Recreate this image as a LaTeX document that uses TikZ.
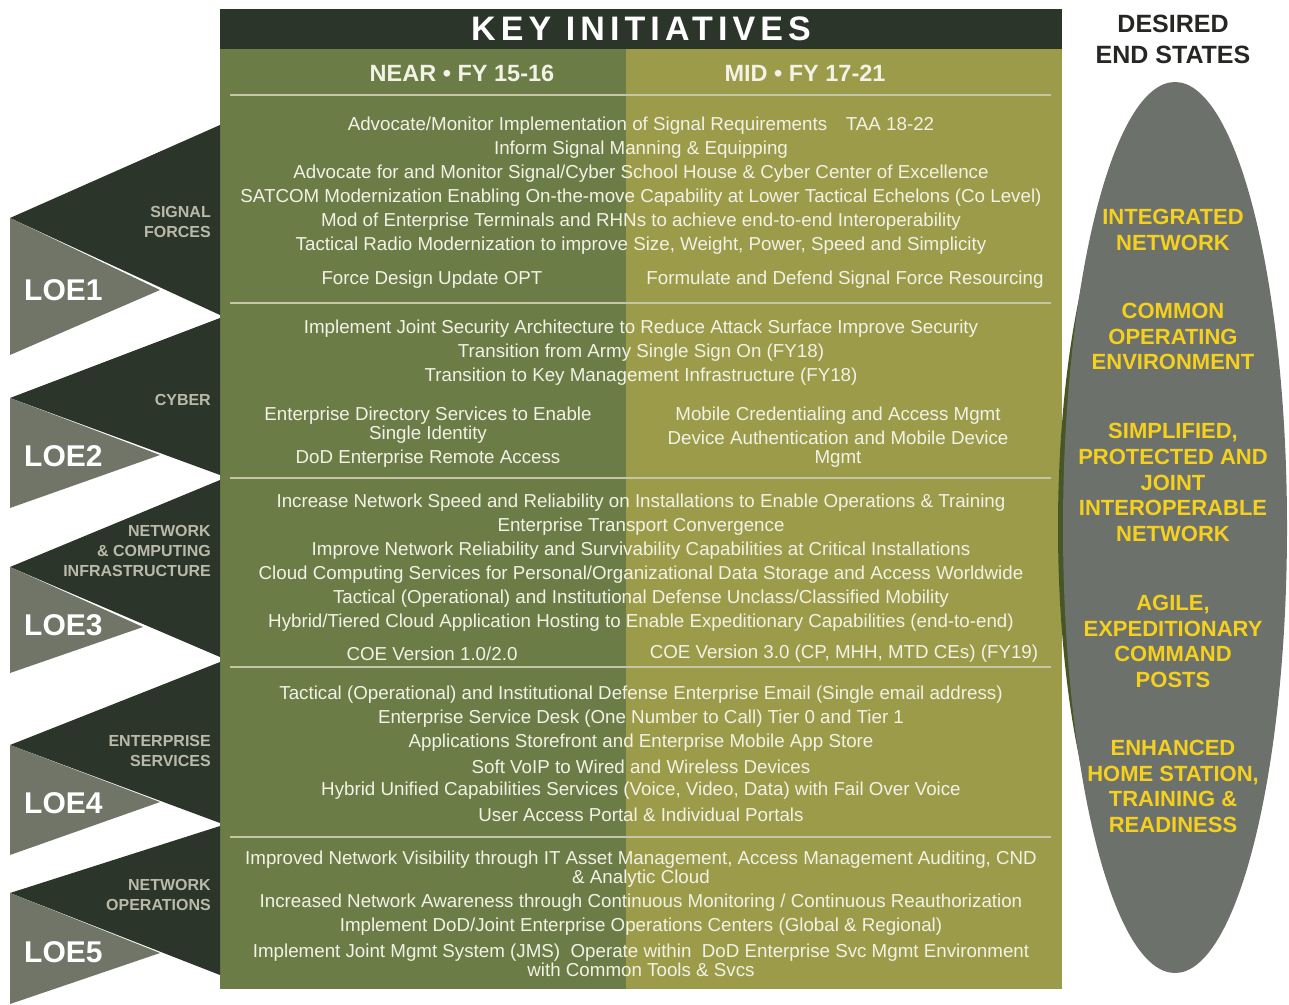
\documentclass[tikz,border=0pt]{standalone}
\usepackage{fontspec}
\setmainfont{Liberation Sans}
\newfontfamily\titrefont[LetterSpace=15]{Liberation Sans}
\usepackage{tikz}
\usetikzlibrary{shapes,arrows,positioning,calc,fit,backgrounds}

\definecolor{barfonce}{RGB}{44,53,42}
\definecolor{olivegauche}{RGB}{107,124,70}
\definecolor{olivedroite}{RGB}{156,155,74}
\definecolor{gristri}{RGB}{112,117,104}
\definecolor{grisellipse}{RGB}{108,113,107}
\definecolor{ombre}{RGB}{72,86,38}
\definecolor{jaune}{RGB}{245,208,30}
\definecolor{texteclair}{RGB}{242,242,230}
\definecolor{texteloe}{RGB}{186,186,170}
\definecolor{filet}{RGB}{196,198,165}
\definecolor{titrefin}{RGB}{38,38,36}

\begin{document}
\begin{tikzpicture}[x=1pt, y=-1pt,
    ligne/.style={text=texteclair, font=\fontsize{18.75}{19}\selectfont, inner sep=0pt, align=center, yshift=-2.5pt},
    axe/.style={text=texteloe, font=\fontsize{16}{20}\selectfont\bfseries, inner sep=0pt, align=right, anchor=east},
    loe/.style={text=white, font=\fontsize{30}{30}\selectfont\bfseries, inner sep=0pt, anchor=west},
    etat/.style={text=jaune, font=\fontsize{22}{25.7}\selectfont\bfseries, inner sep=0pt, align=center}]
    \useasboundingbox (0,0) rectangle (1289,1004);

    % Colonnes et bandeau
    \fill[olivegauche] (220,49) rectangle (626,989);
    \fill[olivedroite] (626,49) rectangle (1062,989);
    \fill[barfonce] (220,9) rectangle (1062,49);
    \foreach \y in {95,303,478,667,837}
        \draw[filet, line width=2.5pt] (230,\y) -- (1051,\y);

    % Chevrons des LOE
    \fill[barfonce] (220,125) -- (10,218) -- (220,315) -- cycle;
    \fill[gristri] (10,218) -- (10,355) -- (160,290) -- cycle;
    \fill[barfonce] (220,318) -- (10,398) -- (220,475) -- cycle;
    \fill[gristri] (10,398) -- (10,508) -- (160,455) -- cycle;
    \fill[barfonce] (220,480) -- (10,567) -- (220,657) -- cycle;
    \fill[gristri] (10,567) -- (10,673) -- (143,627) -- cycle;
    \fill[barfonce] (220,662) -- (10,745) -- (220,823) -- cycle;
    \fill[gristri] (10,745) -- (10,855) -- (160,802) -- cycle;
    \fill[barfonce] (220,826) -- (10,893) -- (220,975) -- cycle;
    \fill[gristri] (10,893) -- (10,1004) -- (160,953) -- cycle;

    \node[axe] (ax1) at (211,222) {SIGNAL\\FORCES};
    \node[axe] (ax2) at (211,400) {CYBER};
    \node[axe] (ax3) at (211,551) {NETWORK\\\& COMPUTING\\INFRASTRUCTURE};
    \node[axe] (ax4) at (211,751) {ENTERPRISE\\SERVICES};
    \node[axe] (ax5) at (211,895) {NETWORK\\OPERATIONS};
    \foreach \i/\y in {1/290, 2/456, 3/625, 4/803, 5/952}
        \node[loe] (loe\i) at (24,\y) {LOE\i};

    % Titres
    \node[text=white, font=\fontsize{34}{34}\selectfont\titrefont\bfseries, inner sep=0pt] (titre) at (641,29) {KEY INITIATIVES};
    \node[text=texteclair, font=\fontsize{23.5}{24}\selectfont\bfseries, inner sep=0pt] (near) at (462,73) {NEAR • FY 15-16};
    \node[text=texteclair, font=\fontsize{23.5}{24}\selectfont\bfseries, inner sep=0pt] (mid) at (805,73) {MID • FY 17-21};

    % LOE1
    \node[ligne] (a1) at (641,123) {Advocate/Monitor Implementation of Signal Requirements\quad TAA 18-22};
    \node[ligne] (a2) at (641,147) {Inform Signal Manning \& Equipping};
    \node[ligne] (a3) at (641,171) {Advocate for and Monitor Signal/Cyber School House \& Cyber Center of Excellence};
    \node[ligne] (a4) at (641,195) {SATCOM Modernization Enabling On-the-move Capability at Lower Tactical Echelons (Co Level)};
    \node[ligne] (a5) at (641,219) {Mod of Enterprise Terminals and RHNs to achieve end-to-end Interoperability};
    \node[ligne] (a6) at (641,243) {Tactical Radio Modernization to improve Size, Weight, Power, Speed and Simplicity};
    \node[ligne] (a7) at (432,277) {Force Design Update OPT};
    \node[ligne] (a8) at (845,277) {Formulate and Defend Signal Force Resourcing};

    % LOE2
    \node[ligne] (b1) at (641,326) {Implement Joint Security Architecture to Reduce Attack Surface Improve Security};
    \node[ligne] (b2) at (641,350) {Transition from Army Single Sign On (FY18)};
    \node[ligne] (b3) at (641,374) {Transition to Key Management Infrastructure (FY18)};
    \node[ligne] (b4) at (428,422.5) {Enterprise Directory Services to Enable\\Single Identity};
    \node[ligne] (b5) at (428,456) {DoD Enterprise Remote Access};
    \node[ligne] (b6) at (838,413) {Mobile Credentialing and Access Mgmt};
    \node[ligne] (b7) at (838,446.5) {Device Authentication and Mobile Device\\Mgmt};

    % LOE3
    \node[ligne] (c1) at (641,500) {Increase Network Speed and Reliability on Installations to Enable Operations \& Training};
    \node[ligne] (c2) at (641,524) {Enterprise Transport Convergence};
    \node[ligne] (c3) at (641,548) {Improve Network Reliability and Survivability Capabilities at Critical Installations};
    \node[ligne] (c4) at (641,572) {Cloud Computing Services for Personal/Organizational Data Storage and Access Worldwide};
    \node[ligne] (c5) at (641,596) {Tactical (Operational) and Institutional Defense Unclass/Classified Mobility};
    \node[ligne] (c6) at (641,620) {Hybrid/Tiered Cloud Application Hosting to Enable Expeditionary Capabilities (end-to-end)};
    \node[ligne] (c7) at (432,651) {COE Version 1.0/2.0};
    \node[ligne] (c8) at (844,651) {COE Version 3.0 (CP, MHH, MTD CEs) (FY19)};

    % LOE4
    \node[ligne] (d1) at (641,692) {Tactical (Operational) and Institutional Defense Enterprise Email (Single email address)};
    \node[ligne] (d2) at (641,716) {Enterprise Service Desk (One Number to Call) Tier 0 and Tier 1};
    \node[ligne] (d3) at (641,740) {Applications Storefront and Enterprise Mobile App Store};
    \node[ligne] (d4) at (641,764) {Soft VoIP to Wired and Wireless Devices};
    \node[ligne] (d5) at (641,788) {Hybrid Unified Capabilities Services (Voice, Video, Data) with Fail Over Voice};
    \node[ligne] (d6) at (641,812) {User Access Portal \& Individual Portals};

    % LOE5
    \node[ligne] (e1) at (641,866.5) {Improved Network Visibility through IT Asset Management, Access Management Auditing, CND\\\& Analytic Cloud};
    \node[ligne] (e2) at (641,900) {Increased Network Awareness through Continuous Monitoring / Continuous Reauthorization};
    \node[ligne] (e3) at (641,924) {Implement DoD/Joint Enterprise Operations Centers (Global \& Regional)};
    \node[ligne] (e4) at (641,957.5) {Implement Joint Mgmt System (JMS)\ \ Operate within\ \ DoD Enterprise Svc Mgmt Environment\\with Common Tools \& Svcs};

    % Etats finaux
    \node[text=titrefin, font=\fontsize{25}{31}\selectfont\bfseries, inner sep=0pt, align=center] (fin) at (1173,39.5) {DESIRED\\END STATES};
    \fill[ombre] (1168,527.5) ellipse [x radius=110, y radius=390];
    \fill[grisellipse] (1175,527.5) ellipse [x radius=112, y radius=445.5];
    \node[etat] (f1) at (1173,230) {INTEGRATED\\NETWORK};
    \node[etat] (f2) at (1173,336.5) {COMMON\\OPERATING\\ENVIRONMENT};
    \node[etat] (f3) at (1173,482.5) {SIMPLIFIED,\\PROTECTED AND\\JOINT\\INTEROPERABLE\\NETWORK};
    \node[etat] (f4) at (1173,641.5) {AGILE,\\EXPEDITIONARY\\COMMAND\\POSTS};
    \node[etat] (f5) at (1173,786.5) {ENHANCED\\HOME STATION,\\TRAINING \&\\READINESS};
\end{tikzpicture}
\end{document}
